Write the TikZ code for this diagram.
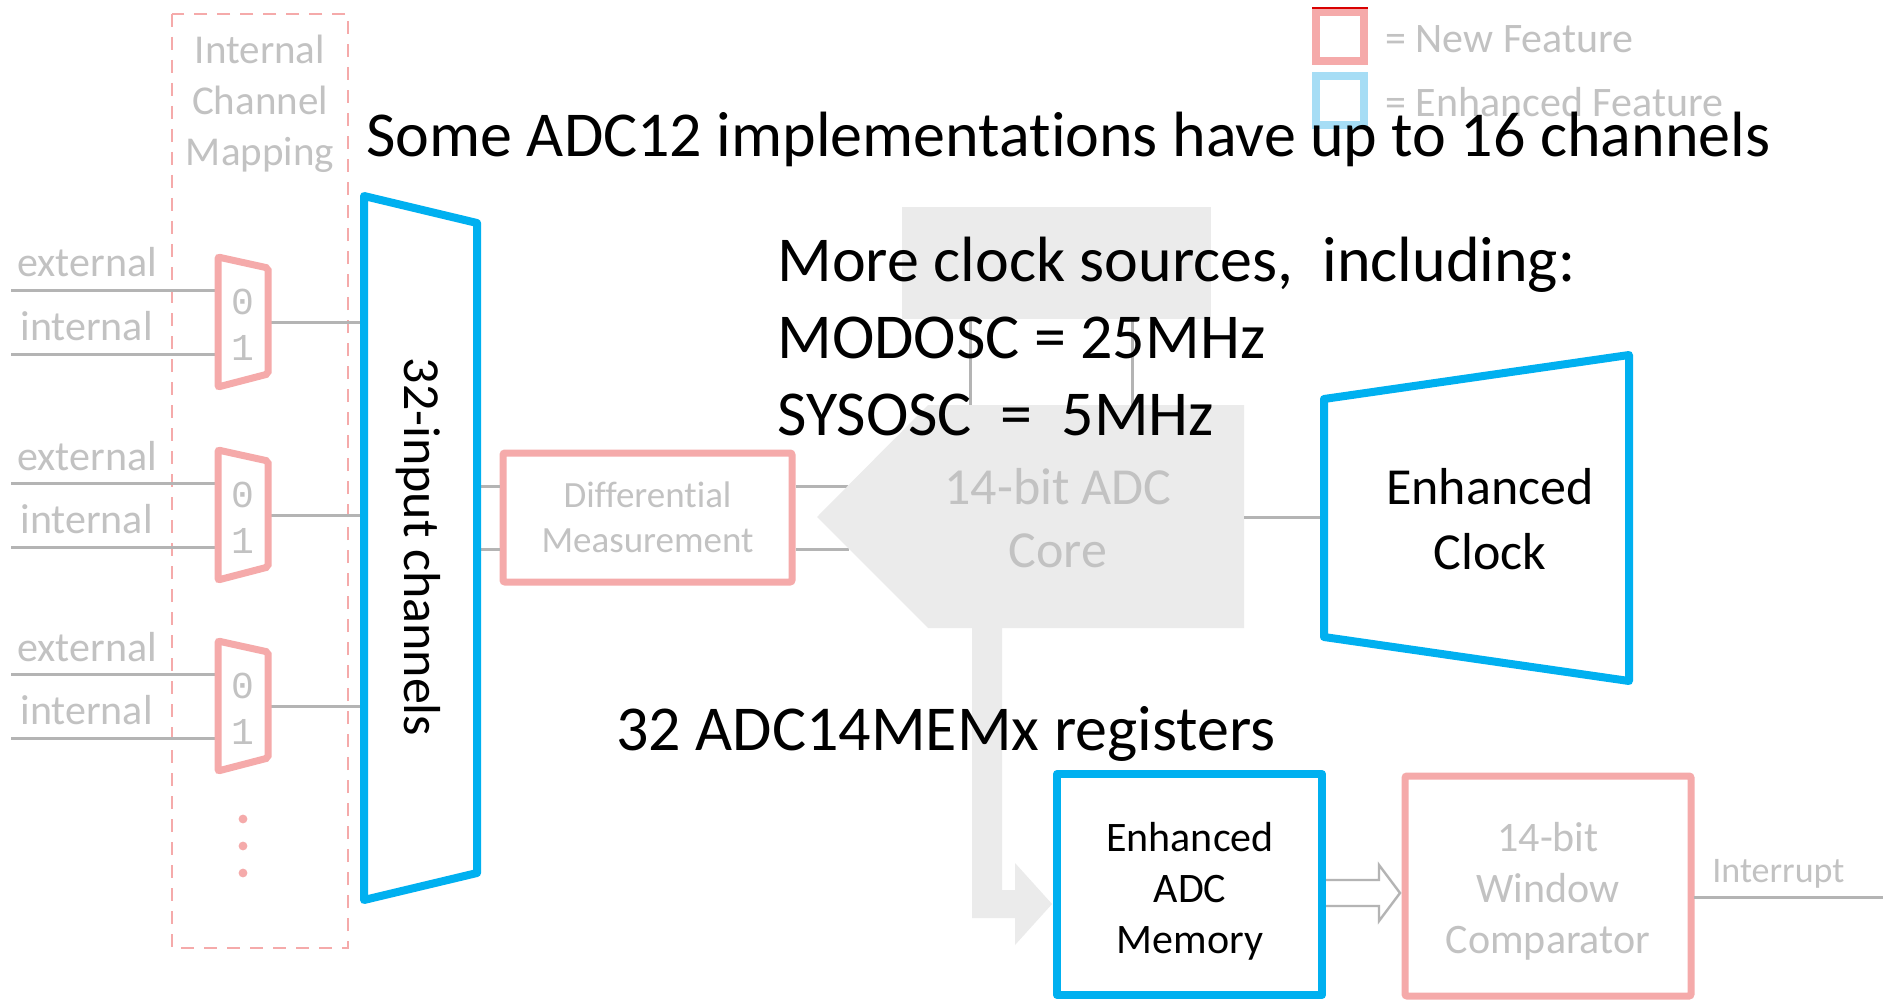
\documentclass[tikz,border=0pt]{standalone}
\usepackage{fontspec}
\setmainfont{Carlito}[Ligatures={NoCommon,NoContextual},Contextuals=NoAlternate,RawFeature={-liga;-clig}]
\newfontfamily\digitfont{Liberation Mono}
\usetikzlibrary{calc}

\definecolor{featblue}{HTML}{00B0F0}
\definecolor{paleblue}{HTML}{A6DDF5}
\definecolor{palered}{HTML}{F5AAAA}
\definecolor{fadeline}{HTML}{B4B4B4}
\definecolor{fadetext}{HTML}{C2C2C2}
\definecolor{fadefill}{HTML}{EBEBEB}

\tikzset{
  bigtext/.style={font=\fontsize{32}{38.4}\selectfont, anchor=base west, inner sep=0pt, text=black},
  enhline/.style={draw=featblue, line width=4pt, line join=round},
  newbox/.style={draw=palered, line width=3.5pt, rounded corners=1pt},
  wire/.style={draw=fadeline, line width=1.5pt},
  faint/.style={text=fadetext, inner sep=0pt},
  hollowarrow/.style={draw=fadeline, line width=1.2pt, fill=white, line join=miter},
  legendbox/.style={line width=4pt, minimum width=24pt, minimum height=24.5pt, inner sep=0pt},
}

\begin{document}
\begin{tikzpicture}[x=0.5pt,y=-0.5pt]
\useasboundingbox (0,0) rectangle (1883,1000);
\fill[white] (0,0) rectangle (1883,1000);

% legend
\node[legendbox, draw=palered] (legnew) at (1340,36.5) {};
\draw[red!85!black, line width=0.8pt] (legnew.north west) -- (legnew.north east);
\node[legendbox, draw=paleblue] (legenh) at (1340,100.5) {};
\node[faint, anchor=base west, font=\fontsize{21}{21}\selectfont] (legnewtxt) at (1385,53) {= New Feature};
\node[faint, anchor=base west, font=\fontsize{21}{21}\selectfont] (legenhtxt) at (1385,117) {= Enhanced Feature};

% internal channel mapping frame
\draw[palered, line width=1.2pt, dash pattern=on 6.5pt off 5pt] (172,14) rectangle (348,948);
\node[faint, align=center, font=\fontsize{20.5}{25.5}\selectfont] (mapping) at (260,104) {Internal\\Channel\\Mapping};

% input multiplexers
\foreach \i/\t in {1/257,2/450,3/641}{
  \coordinate (src\i-a) at (11,\t+33);
  \coordinate (src\i-b) at (11,\t+97);
  \coordinate (mux\i-a) at (218,\t+33);
  \coordinate (mux\i-b) at (218,\t+97);
  \coordinate (mux\i-o) at (268,\t+65);
  \coordinate (chan\i) at (364,\t+65);
  \draw[wire] (src\i-a) -- (mux\i-a);
  \draw[wire] (src\i-b) -- (mux\i-b);
  \draw[wire] (mux\i-o) -- (chan\i);
  \draw[newbox, fill=white] (218,\t) -- (268,\t+11) -- (268,\t+117) -- (218,\t+130) -- cycle;
  \node[faint, anchor=base west, font=\fontsize{21}{21}\selectfont] (ext\i) at (17,\t+20) {external};
  \node[faint, anchor=base west, font=\fontsize{21}{21}\selectfont] (int\i) at (20,\t+83) {internal};
  \node[faint, font=\digitfont\fontsize{19}{19}\selectfont] (sel\i-0) at (243,\t+45) {0};
  \node[faint, font=\digitfont\fontsize{19}{19}\selectfont] (sel\i-1) at (243,\t+91) {1};
}
\foreach \y [count=\k] in {819,846,873}
  \fill[palered] (243,\y) circle (2.2pt) coordinate (dot\k);

% differential stage
\node[newbox, minimum width=144.5pt, minimum height=64.5pt, inner sep=0pt] (diff) at (647.5,517.5) {};
\node[faint, align=center, font=\fontsize{18.5}{22.5}\selectfont] (difftxt) at (647.5,517) {Different\kern0pt ial\\Measurement};
\coordinate (chanR1) at (477,486);
\coordinate (chanR2) at (477,549);
\coordinate (coreL1) at (848,486);
\coordinate (coreL2) at (849,549);
\draw[wire] (chanR1) -- (chanR1 -| diff.west);
\draw[wire] (chanR2) -- (chanR2 -| diff.west);
\draw[wire] (coreL1 -| diff.east) -- (coreL1);
\draw[wire] (coreL2 -| diff.east) -- (coreL2);

% clock select block and its links to the core
\node[fill=fadefill, minimum width=154.5pt, minimum height=56pt, inner sep=0pt] (clksel) at (1056.5,263) {};
\coordinate (clkA) at (970,319);
\coordinate (clkB) at (1132,319);
\coordinate (coreA) at (970,405);
\coordinate (coreB) at (1132,405);
\draw[wire] (clkA) -- (coreA);
\draw[wire] (clkB) -- (coreB);

% ADC core
\fill[fadefill] (817,517) -- (928,405) -- (1244,405) -- (1244,628) -- (928,628) -- cycle;
\node[faint, align=center, font=\fontsize{26}{31.5}\selectfont] (core) at (1058,518) {14-bit ADC\\Core};
\coordinate (coreR) at (1244,517);
\coordinate (clkL) at (1324,517);
\draw[wire] (coreR) -- (clkL);

% conversion result path into memory
\fill[fadefill] (972,628) -- (1002,628) -- (1002,890) -- (1015,890) -- (1015,863)
  -- (1052,904) -- (1015,945) -- (1015,918) -- (972,918) -- cycle;

% window comparator
\node[newbox, minimum width=143pt, minimum height=110pt, inner sep=0pt] (cmp) at (1548,886) {};
\node[faint, align=center, font=\fontsize{21}{25.5}\selectfont] (cmptxt) at (1548,891) {14-bit\\Window\\Comparator};
\coordinate (cmpR) at (1694,897);
\coordinate (irqEnd) at (1883,897);
\draw[wire] (cmpR) -- (irqEnd);
\node[faint, anchor=base west, font=\fontsize{18}{18}\selectfont] (irq) at (1712,882) {Interrupt};

% memory to comparator
\coordinate (memR) at (1326,893);
\coordinate (cmpL) at (1400,893);
\draw[hollowarrow] (memR) ++(0,-13) -- (1379,880) -- (1379,865) -- (cmpL)
  -- (1379,921) -- (1379,906) -- (1326,906);

% enhanced blocks
\draw[enhline, fill=white] (364,196) -- (477,223) -- (477,873) -- (364,900) -- cycle;
\node[rotate=-90, font=\fontsize{26}{26}\selectfont, inner sep=0pt] (chantxt) at (418,547) {32-input channels};

\draw[enhline, fill=white] (1324,399) -- (1629,355) -- (1629,681) -- (1324,637) -- cycle;
\node[align=center, font=\fontsize{26}{32.5}\selectfont] (clktxt) at (1490,519) {Enhanced\\Clock};

\node[enhline, minimum width=132.5pt, minimum height=110.5pt, inner sep=0pt] (mem) at (1189.5,884.5) {};
\node[align=center, font=\fontsize{21}{25.5}\selectfont] (memtxt) at (1190,891) {Enhanced\\ADC\\Memory};

% annotations
\node[bigtext] (note16) at (366,157) {Some ADC12 implementat\kern0pt ions have up to 16 channels};
\node[bigtext] (noteclk) at (777,281) {More clock sources,\ \ including:};
\node[bigtext] (notemod) at (777,358) {MODOSC = 25MHz};
\node[bigtext] (notesys) at (777,435) {SYSOSC\ \ =\ \ 5MHz};
\node[bigtext] (notemem) at (616,750) {32 ADC14MEMx registers};
\end{tikzpicture}
\end{document}
